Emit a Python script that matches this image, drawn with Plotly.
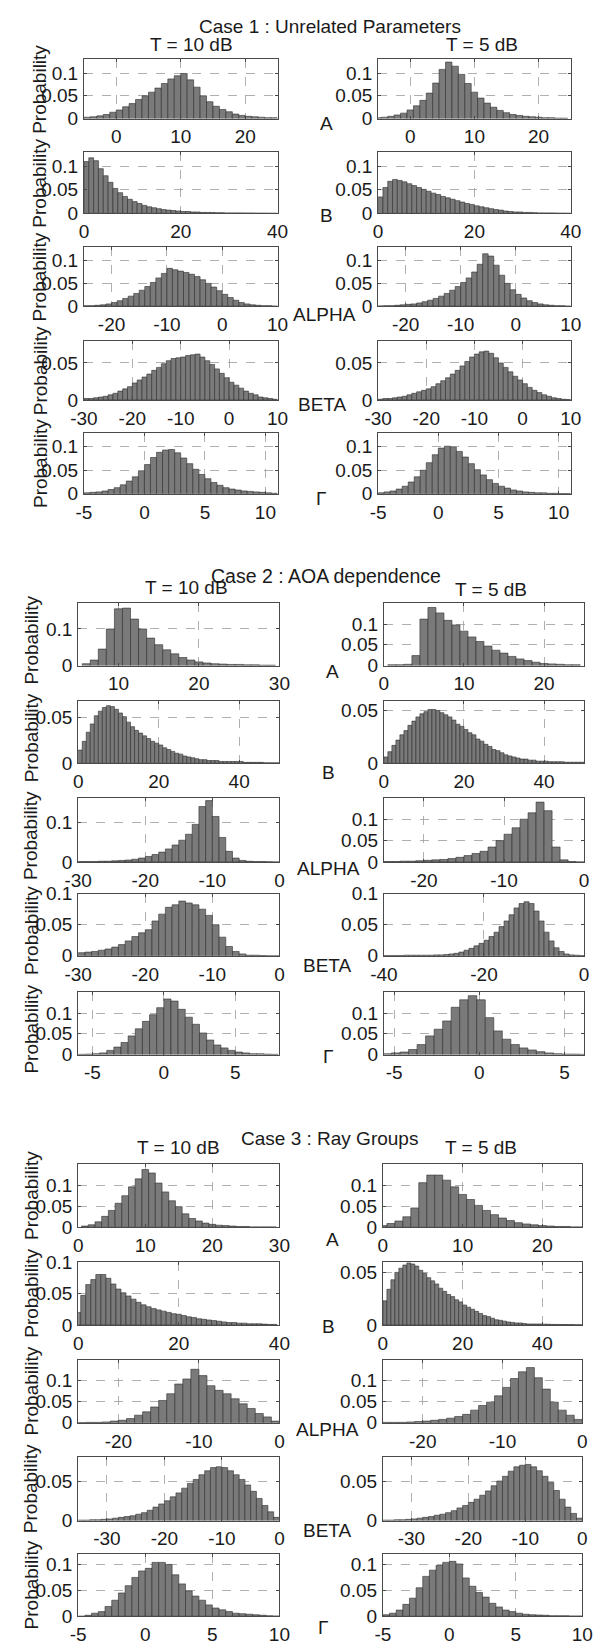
import plotly.graph_objects as go

# ---------------- data (probabilities per bin) ----------------
# Case 1 : Unrelated Parameters
c1_A_10 = [0.003,0.004,0.006,0.009,0.014,0.019,0.026,0.033,0.042,0.05,0.058,0.067,0.077,0.087,0.094,0.099,0.085,0.069,0.05,0.037,0.027,0.02,0.015,0.01,0.007,0.005,0.004,0.003,0.002,0.002]
c1_A_5 = [0.002,0.003,0.005,0.008,0.012,0.019,0.028,0.04,0.056,0.078,0.108,0.124,0.115,0.097,0.077,0.058,0.045,0.034,0.025,0.018,0.013,0.009,0.007,0.005,0.004,0.003,0.002,0.002,0.001,0.001]
c1_B_10 = [0.11,0.118,0.112,0.095,0.08,0.066,0.053,0.044,0.036,0.03,0.025,0.021,0.017,0.014,0.012,0.01,0.008,0.007,0.006,0.005,0.004,0.004,0.003,0.003,0.002,0.002,0.002,0.0015,0.0015,0.001,0.001,0.001,0.001,0.0008,0.0008,0.0006,0.0005,0.0005,0.0003,0.0003]
c1_B_5 = [0.035,0.055,0.068,0.072,0.07,0.067,0.063,0.059,0.055,0.051,0.047,0.043,0.04,0.036,0.033,0.03,0.027,0.024,0.021,0.019,0.016,0.014,0.012,0.01,0.008,0.007,0.005,0.004,0.003,0.003,0.002,0.002,0.0015,0.001,0.001,0.001,0.0008,0.0005,0.0005,0.0003]
c1_AL_10 = [0.001,0.001,0.002,0.003,0.005,0.008,0.012,0.017,0.022,0.028,0.035,0.043,0.052,0.062,0.072,0.083,0.08,0.077,0.074,0.07,0.065,0.058,0.05,0.042,0.034,0.026,0.019,0.013,0.008,0.005,0.003,0.002,0.001,0.001,0.0]
c1_AL_5 = [0.0005,0.001,0.001,0.002,0.003,0.004,0.005,0.007,0.01,0.013,0.017,0.022,0.028,0.035,0.043,0.052,0.062,0.075,0.092,0.115,0.11,0.09,0.068,0.05,0.036,0.026,0.018,0.012,0.008,0.005,0.003,0.002,0.001,0.001,0.0]
c1_BE_10 = [0.002,0.002,0.003,0.004,0.005,0.007,0.009,0.012,0.015,0.018,0.023,0.027,0.031,0.035,0.04,0.044,0.049,0.053,0.056,0.057,0.058,0.06,0.061,0.062,0.058,0.053,0.048,0.042,0.036,0.03,0.024,0.02,0.016,0.012,0.009,0.007,0.004,0.003,0.002,0.001]
c1_BE_5 = [0.001,0.002,0.002,0.003,0.004,0.005,0.007,0.009,0.011,0.013,0.015,0.018,0.022,0.026,0.03,0.035,0.04,0.046,0.052,0.058,0.062,0.065,0.066,0.063,0.057,0.05,0.044,0.038,0.032,0.027,0.022,0.017,0.013,0.01,0.007,0.005,0.003,0.002,0.001,0.0005]
c1_G_10 = [0.002,0.003,0.004,0.006,0.009,0.013,0.019,0.027,0.036,0.048,0.062,0.077,0.088,0.093,0.094,0.087,0.076,0.064,0.052,0.041,0.032,0.024,0.018,0.013,0.01,0.008,0.006,0.005,0.004,0.003,0.002,0.001]
c1_G_5 = [0.002,0.004,0.006,0.01,0.016,0.025,0.036,0.05,0.066,0.083,0.097,0.101,0.099,0.09,0.078,0.064,0.051,0.04,0.03,0.022,0.016,0.012,0.008,0.006,0.004,0.003,0.002,0.002,0.001,0.001,0.0005,0.0005]

# Case 2 : AOA dependence
c2_A_10 = [0.005,0.015,0.045,0.1,0.155,0.157,0.127,0.1,0.075,0.057,0.043,0.032,0.022,0.015,0.01,0.007,0.005,0.004,0.003,0.003,0.002,0.002,0.001,0.001]
c2_A_5 = [0.002,0.002,0.003,0.024,0.112,0.14,0.127,0.109,0.098,0.083,0.069,0.058,0.047,0.037,0.03,0.022,0.016,0.012,0.008,0.005,0.004,0.003,0.002,0.002]
c2_B_10 = [0.0145,0.024,0.034,0.043,0.052,0.057,0.061,0.063,0.062,0.059,0.055,0.051,0.045,0.04,0.036,0.033,0.03,0.027,0.024,0.022,0.02,0.017,0.015,0.013,0.011,0.01,0.008,0.007,0.006,0.005,0.004,0.004,0.003,0.003,0.003,0.002,0.002,0.002,0.002,0.002,0.002,0.001,0.001,0.001,0.001,0.001,0.0005,0.0005,0.0005,0.0005]
c2_B_5 = [0.006,0.011,0.017,0.022,0.027,0.031,0.036,0.04,0.044,0.047,0.049,0.051,0.051,0.05,0.048,0.046,0.044,0.041,0.037,0.035,0.032,0.029,0.027,0.023,0.021,0.018,0.016,0.013,0.012,0.01,0.008,0.007,0.006,0.005,0.004,0.004,0.003,0.003,0.002,0.002,0.002,0.0015,0.0015,0.0015,0.0015,0.001,0.001,0.001,0.001,0.001]
c2_AL_10 = [0.001,0.001,0.001,0.002,0.002,0.003,0.004,0.005,0.007,0.01,0.014,0.019,0.025,0.033,0.043,0.055,0.07,0.095,0.14,0.155,0.115,0.062,0.027,0.01,0.004,0.002,0.001,0.001,0.0005,0.0]
c2_AL_5 = [0.001,0.001,0.002,0.002,0.003,0.004,0.005,0.006,0.008,0.011,0.015,0.02,0.025,0.035,0.05,0.065,0.08,0.1,0.115,0.14,0.12,0.035,0.005,0.001,0.0]
c2_BE_10 = [0.005,0.006,0.007,0.009,0.011,0.014,0.018,0.024,0.031,0.037,0.042,0.056,0.067,0.078,0.082,0.088,0.085,0.082,0.075,0.065,0.05,0.03,0.015,0.007,0.003,0.001,0.001,0.0005,0.0,0.0]
c2_BE_5 = [0.0005,0.0005,0.0005,0.0005,0.001,0.001,0.001,0.001,0.001,0.001,0.0015,0.0015,0.002,0.003,0.004,0.006,0.009,0.012,0.016,0.02,0.025,0.031,0.038,0.047,0.056,0.066,0.077,0.084,0.087,0.084,0.072,0.056,0.038,0.024,0.013,0.007,0.003,0.0015,0.001,0.0005]
c2_G_10 = [0.0005,0.001,0.002,0.004,0.01,0.018,0.029,0.045,0.062,0.08,0.096,0.113,0.134,0.129,0.109,0.09,0.073,0.052,0.035,0.023,0.016,0.01,0.006,0.004,0.002,0.002,0.001,0.0005]
c2_G_5 = [0.002,0.004,0.006,0.012,0.024,0.045,0.061,0.081,0.114,0.132,0.142,0.132,0.089,0.057,0.037,0.024,0.016,0.011,0.007,0.004,0.002,0.001,0.001,0.0005]

# Case 3 : Ray Groups
c3_A_10 = [0.003,0.006,0.013,0.026,0.04,0.057,0.075,0.096,0.115,0.137,0.129,0.105,0.084,0.063,0.049,0.032,0.021,0.015,0.01,0.007,0.005,0.004,0.003,0.002,0.002,0.001,0.001,0.001,0.001]
c3_A_5 = [0.004,0.009,0.015,0.025,0.046,0.106,0.124,0.124,0.112,0.096,0.078,0.066,0.052,0.04,0.03,0.022,0.016,0.011,0.008,0.006,0.004,0.003,0.002,0.002,0.001,0.001]
c3_B_10 = [0.02,0.047,0.064,0.072,0.08,0.08,0.074,0.065,0.057,0.051,0.046,0.041,0.036,0.032,0.029,0.026,0.024,0.022,0.02,0.018,0.017,0.015,0.013,0.012,0.01,0.009,0.008,0.007,0.006,0.005,0.004,0.004,0.003,0.003,0.002,0.002,0.002,0.0015,0.001,0.001]
c3_B_5 = [0.023,0.034,0.043,0.05,0.054,0.057,0.059,0.058,0.056,0.052,0.049,0.045,0.042,0.039,0.035,0.032,0.029,0.027,0.024,0.022,0.019,0.017,0.015,0.013,0.011,0.009,0.008,0.0065,0.005,0.0045,0.0037,0.003,0.0025,0.002,0.002,0.0015,0.001,0.001,0.001,0.001,0.0008,0.0008,0.0006,0.0006,0.0005,0.0005,0.0004,0.0004,0.0003,0.0003]
c3_AL_10 = [0.0005,0.001,0.001,0.002,0.004,0.006,0.01,0.018,0.026,0.0375,0.053,0.069,0.092,0.104,0.127,0.112,0.088,0.077,0.069,0.057,0.045,0.034,0.022,0.014,0.004]
c3_AL_5 = [0.001,0.001,0.001,0.002,0.003,0.004,0.006,0.008,0.011,0.015,0.02,0.03,0.041,0.049,0.064,0.084,0.105,0.121,0.131,0.107,0.08,0.049,0.03,0.018,0.008]
c3_BE_10 = [0.0005,0.0005,0.001,0.001,0.0015,0.002,0.003,0.004,0.005,0.006,0.008,0.01,0.013,0.017,0.021,0.025,0.03,0.035,0.041,0.047,0.052,0.058,0.063,0.067,0.068,0.067,0.063,0.058,0.052,0.045,0.037,0.028,0.019,0.011,0.004]
c3_BE_5 = [0.0005,0.0005,0.001,0.001,0.0015,0.002,0.003,0.004,0.005,0.0067,0.008,0.01,0.0125,0.016,0.019,0.023,0.027,0.032,0.0375,0.044,0.05,0.056,0.0625,0.068,0.07,0.071,0.068,0.063,0.056,0.048,0.038,0.027,0.017,0.009,0.003]
c3_G_10 = [0.0,0.002,0.006,0.009,0.019,0.031,0.045,0.059,0.075,0.0875,0.0925,0.104,0.104,0.1,0.08,0.0625,0.049,0.039,0.031,0.022,0.016,0.0125,0.009,0.006,0.005,0.004,0.003,0.002,0.001,0.0005]
c3_G_5 = [0.003,0.006,0.012,0.023,0.035,0.055,0.077,0.089,0.098,0.104,0.106,0.101,0.074,0.058,0.046,0.037,0.025,0.018,0.012,0.009,0.006,0.004,0.003,0.0025,0.002,0.001,0.001,0.001,0.0005,0.0005]

# first bin centre and bin width for every histogram
bins = {
    "c1_A_10": (-4.5, 1), "c1_A_5": (-5, 1), "c1_B_10": (0.5, 1), "c1_B_5": (0.5, 1),
    "c1_AL_10": (-24.5, 1), "c1_AL_5": (-24.5, 1), "c1_BE_10": (-29.5, 1), "c1_BE_5": (-29.5, 1),
    "c1_G_10": (-4.75, 0.5), "c1_G_5": (-4.75, 0.5),
    "c2_A_10": (6, 1), "c2_A_5": (1, 1), "c2_B_10": (0.5, 1), "c2_B_5": (0.5, 1),
    "c2_AL_10": (-29.5, 1), "c2_AL_5": (-24.5, 1), "c2_BE_10": (-29.5, 1), "c2_BE_5": (-39.5, 1),
    "c2_G_10": (-5.75, 0.5), "c2_G_5": (-5.4, 0.5),
    "c3_A_10": (1, 1), "c3_A_5": (0, 1), "c3_B_10": (0, 1), "c3_B_5": (0.5, 1),
    "c3_AL_10": (-24.5, 1), "c3_AL_5": (-24.5, 1), "c3_BE_10": (-34.5, 1), "c3_BE_5": (-34.5, 1),
    "c3_G_10": (-4.75, 0.5), "c3_G_5": (-4.75, 0.5),
}
series = {
    "c1_A_10": c1_A_10, "c1_A_5": c1_A_5, "c1_B_10": c1_B_10, "c1_B_5": c1_B_5,
    "c1_AL_10": c1_AL_10, "c1_AL_5": c1_AL_5, "c1_BE_10": c1_BE_10, "c1_BE_5": c1_BE_5,
    "c1_G_10": c1_G_10, "c1_G_5": c1_G_5,
    "c2_A_10": c2_A_10, "c2_A_5": c2_A_5, "c2_B_10": c2_B_10, "c2_B_5": c2_B_5,
    "c2_AL_10": c2_AL_10, "c2_AL_5": c2_AL_5, "c2_BE_10": c2_BE_10, "c2_BE_5": c2_BE_5,
    "c2_G_10": c2_G_10, "c2_G_5": c2_G_5,
    "c3_A_10": c3_A_10, "c3_A_5": c3_A_5, "c3_B_10": c3_B_10, "c3_B_5": c3_B_5,
    "c3_AL_10": c3_AL_10, "c3_AL_5": c3_AL_5, "c3_BE_10": c3_BE_10, "c3_BE_5": c3_BE_5,
    "c3_G_10": c3_G_10, "c3_G_5": c3_G_5,
}

# axis ranges and ticks: (xrange, xticks, ymax, yticks)
axes_spec = {
    "c1_A_10": ([-5, 25], [0, 10, 20], 0.13, [0, 0.05, 0.1]),
    "c1_A_5": ([-5, 25], [0, 10, 20], 0.13, [0, 0.05, 0.1]),
    "c1_B_10": ([0, 40], [0, 20, 40], 0.13, [0, 0.05, 0.1]),
    "c1_B_5": ([0, 40], [0, 20, 40], 0.13, [0, 0.05, 0.1]),
    "c1_AL_10": ([-25, 10], [-20, -10, 0, 10], 0.13, [0, 0.05, 0.1]),
    "c1_AL_5": ([-25, 10], [-20, -10, 0, 10], 0.13, [0, 0.05, 0.1]),
    "c1_BE_10": ([-30, 10], [-30, -20, -10, 0, 10], 0.08, [0, 0.05]),
    "c1_BE_5": ([-30, 10], [-30, -20, -10, 0, 10], 0.08, [0, 0.05]),
    "c1_G_10": ([-5, 11], [-5, 0, 5, 10], 0.13, [0, 0.05, 0.1]),
    "c1_G_5": ([-5, 11], [-5, 0, 5, 10], 0.13, [0, 0.05, 0.1]),
    "c2_A_10": ([5, 30], [10, 20, 30], 0.17, [0, 0.1]),
    "c2_A_5": ([0, 25], [0, 10, 20], 0.15, [0, 0.05, 0.1]),
    "c2_B_10": ([0, 50], [0, 20, 40], 0.068, [0, 0.05]),
    "c2_B_5": ([0, 50], [0, 20, 40], 0.059, [0, 0.05]),
    "c2_AL_10": ([-30, 0], [-30, -20, -10, 0], 0.162, [0, 0.1]),
    "c2_AL_5": ([-25, 0], [-20, -10, 0], 0.15, [0, 0.05, 0.1]),
    "c2_BE_10": ([-30, 0], [-30, -20, -10, 0], 0.1, [0, 0.05, 0.1]),
    "c2_BE_5": ([-40, 0], [-40, -20, 0], 0.1, [0, 0.05, 0.1]),
    "c2_G_10": ([-6, 8.1], [-5, 0, 5], 0.15, [0, 0.05, 0.1]),
    "c2_G_5": ([-5.6, 6.15], [-5, 0, 5], 0.15, [0, 0.05, 0.1]),
    "c3_A_10": ([0, 30], [0, 10, 20, 30], 0.15, [0, 0.05, 0.1]),
    "c3_A_5": ([0, 25], [0, 10, 20], 0.15, [0, 0.05, 0.1]),
    "c3_B_10": ([0, 40], [0, 20, 40], 0.1, [0, 0.05, 0.1]),
    "c3_B_5": ([0, 50], [0, 20, 40], 0.06, [0, 0.05]),
    "c3_AL_10": ([-25, 0], [-20, -10, 0], 0.15, [0, 0.05, 0.1]),
    "c3_AL_5": ([-25, 0], [-20, -10, 0], 0.15, [0, 0.05, 0.1]),
    "c3_BE_10": ([-35, 0], [-30, -20, -10, 0], 0.08, [0, 0.05]),
    "c3_BE_5": ([-35, 0], [-30, -20, -10, 0], 0.08, [0, 0.05]),
    "c3_G_10": ([-5, 10], [-5, 0, 5, 10], 0.12, [0, 0.05, 0.1]),
    "c3_G_5": ([-5, 10], [-5, 0, 5, 10], 0.12, [0, 0.05, 0.1]),
}

cases = ["c1", "c2", "c3"]
params = ["A", "B", "AL", "BE", "G"]
param_labels = ["A", "B", "ALPHA", "BETA", "Γ"]
case_titles = ["Case 1 : Unrelated Parameters", "Case 2 : AOA dependence", "Case 3 : Ray Groups"]
col_titles = ["T = 10 dB", "T = 5 dB"]

# ---------------- layout geometry (pixels) ----------------
W, H = 598, 1650
col_x = {  # (left, right) of plot boxes for each case, per column
    "c1": [(73, 275), (380, 581)],
    "c2": [(67, 277), (386, 595)],
    "c3": [(67, 277), (385, 593)],
}
row_y = {  # (top, bottom) for each parameter row
    "c1": [(50, 110), (144, 206), (240, 300), (335, 395), (428, 490)],
    "c2": [(601, 664), (700, 763), (798, 863), (895, 958), (995, 1058)],
    "c3": [(1169, 1233), (1268, 1332), (1367, 1431), (1466, 1530), (1564, 1627)],
}
title_pos = {"c1": (330, 17), "c2": (326, 573), "c3": (329, 1143)}
coltitle_pos = {"c1": [(185, 35), (488, 35)], "c2": [(180, 585), (498, 587)], "c3": [(172, 1152), (487, 1152)]}
plabel_pos = {
    "c1": [(326, 115), (326, 208), (324, 308), (322, 400), (320, 495)],
    "c2": [(332, 670), (328, 772), (328, 870), (327, 968), (328, 1060)],
    "c3": [(332, 1245), (328, 1333), (327, 1438), (327, 1540), (322, 1638)],
}
ylab_x = {"c1": 27, "c2": 18, "c3": 18}
ylab_dy = {"c1": 0, "c2": 6, "c3": 0}
title_fs = {"c1": 19, "c2": 19.5, "c3": 19}

FONT = "Liberation Sans Narrow, Arial Narrow, Liberation Sans, Arial, sans-serif"
FS = 19
TXT = "#1a1a1a"
BAR = "#7a7a7a"
EDGE = "#2e2e2e"
AXC = "#4a4a4a"
GRID = "#9c9c9c"


def fx(p):
    return p / W


def fy(p):
    return 1 - p / H


def fmt(v):
    if v == 0:
        return "0"
    return ("%g" % v)


fig = go.Figure()
annotations = []
idx = 0
for ci, c in enumerate(cases):
    tx, ty = title_pos[c]
    annotations.append(dict(x=fx(tx), y=fy(ty), text=case_titles[ci], showarrow=False,
                            xref="paper", yref="paper", xanchor="center", yanchor="middle",
                            font=dict(size=title_fs[c], family=FONT, color=TXT)))
    for col in range(2):
        cx, cy = coltitle_pos[c][col]
        annotations.append(dict(x=fx(cx), y=fy(cy), text=col_titles[col], showarrow=False,
                                xref="paper", yref="paper", xanchor="center", yanchor="middle",
                                font=dict(size=FS, family=FONT, color=TXT)))
    for ri, p in enumerate(params):
        top, bot = row_y[c][ri]
        lx, ly = plabel_pos[c][ri]
        annotations.append(dict(x=fx(lx), y=fy(ly), text=param_labels[ri], showarrow=False,
                                xref="paper", yref="paper", xanchor="center", yanchor="middle",
                                font=dict(size=FS, family=FONT, color=TXT)))
        annotations.append(dict(x=fx(ylab_x[c]), y=fy((top + bot) / 2 + ylab_dy[c]), text="Probability",
                                textangle=-90, showarrow=False, xref="paper", yref="paper",
                                xanchor="center", yanchor="middle",
                                font=dict(size=FS, family=FONT, color=TXT)))
        for col, tval in enumerate(["10", "5"]):
            key = "%s_%s_%s" % (c, p, tval)
            vals = series[key]
            x0, dx = bins[key]
            centers = [x0 + k * dx for k in range(len(vals))]
            xr, xt, ymax, yt = axes_spec[key]
            idx += 1
            sfx = "" if idx == 1 else str(idx)
            fig.add_trace(go.Bar(x=centers, y=vals, width=dx,
                                 marker=dict(color=BAR, line=dict(color=EDGE, width=0.6)),
                                 xaxis="x" + sfx, yaxis="y" + sfx, showlegend=False,
                                 hoverinfo="skip"))
            l, r = col_x[c][col]
            common = dict(showgrid=True, gridcolor=GRID, griddash="dash", gridwidth=0.8,
                          showline=True, mirror="ticks", linecolor=AXC, linewidth=1,
                          ticks="inside", ticklen=3, tickcolor=AXC, zeroline=False,
                          tickfont=dict(size=FS, family=FONT, color=TXT), fixedrange=True)
            fig.layout["xaxis" + sfx] = dict(domain=[fx(l), fx(r)], anchor="y" + sfx, range=xr,
                                             tickvals=xt, ticktext=[fmt(v) for v in xt],
                                             ticklabelstandoff=1, **common)
            fig.layout["yaxis" + sfx] = dict(domain=[fy(bot), fy(top)], anchor="x" + sfx,
                                             range=[0, ymax], tickvals=yt,
                                             ticktext=[fmt(v) for v in yt],
                                             ticklabelstandoff=1, **common)

fig.update_layout(width=W, height=H, autosize=False, margin=dict(l=0, r=0, t=0, b=0),
                  paper_bgcolor="white", plot_bgcolor="white", bargap=0,
                  annotations=annotations, showlegend=False,
                  font=dict(family=FONT, color=TXT))
fig.write_html("out.html", config={"displayModeBar": False, "staticPlot": True},
               post_script="document.body.style.margin='0';document.body.style.overflow='hidden';")
